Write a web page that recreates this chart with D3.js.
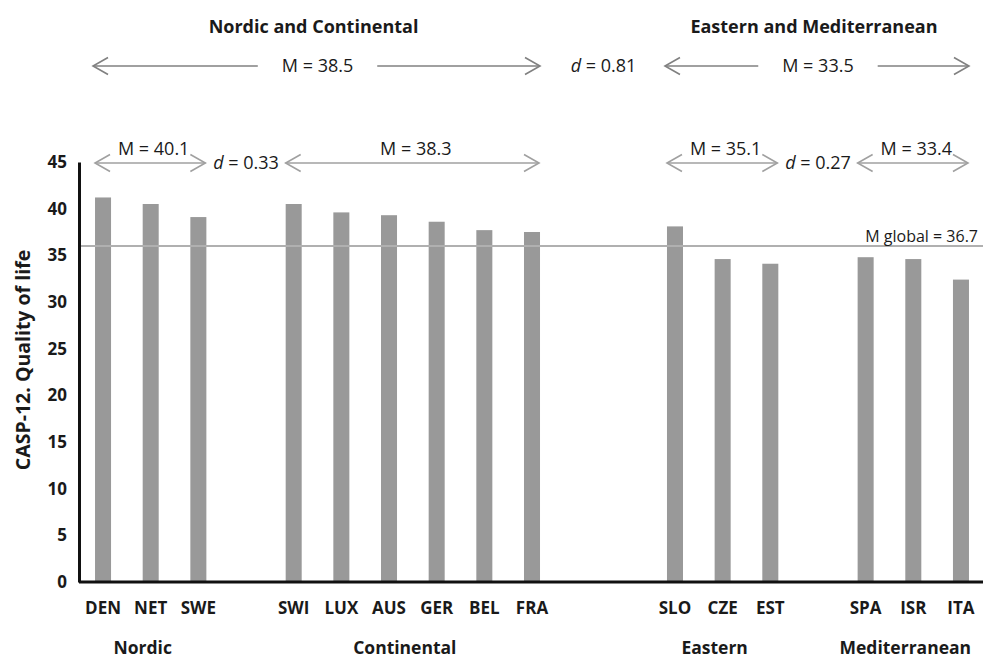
<!DOCTYPE html>
<html>
<head>
<meta charset="utf-8">
<script src="https://cdn.jsdelivr.net/npm/d3@7"></script>
<style>
  html, body { margin: 0; padding: 0; background: #fff; }
  svg { display: block; font-family: "Open Sans", sans-serif; }
</style>
</head>
<body>
<svg id="chart" width="983" height="660"></svg>
<script>
// ---- data ----
const categories = ["DEN","NET","SWE","SWI","LUX","AUS","GER","BEL","FRA","SLO","CZE","EST","SPA","ISR","ITA"];
const values     = [41.2, 40.5, 39.1, 40.5, 39.6, 39.3, 38.6, 37.7, 37.5, 38.1, 34.6, 34.1, 34.8, 34.6, 32.4];
const regionOf   = ["Nordic","Nordic","Nordic","Continental","Continental","Continental","Continental","Continental","Continental","Eastern","Eastern","Eastern","Mediterranean","Mediterranean","Mediterranean"];
const regions    = ["Nordic","Continental","Eastern","Mediterranean"];
const regionMeans = ["M = 40.1","M = 38.3","M = 35.1","M = 33.4"];
const gapsBefore  = [0, 1, 2, 1];           // empty slots before each region
const blocks      = ["Nordic and Continental","Eastern and Mediterranean"];
const blockRegions = [["Nordic","Continental"],["Eastern","Mediterranean"]];
const blockMeans  = ["M = 38.5","M = 33.5"];
const dWithin     = ["d = 0.33","d = 0.27"];
const dBetween    = "d = 0.81";
const globalMean  = 36.0;                   // line position as drawn
const globalLabel = "M global = 36.7";
const yTicks      = [0,5,10,15,20,25,30,35,40,45];
const yTitle      = "CASP-12. Quality of life";

// ---- slot domain (with empty spacer slots) ----
const slots = [];
let gapId = 0;
regions.forEach((r, i) => {
  for (let g = 0; g < gapsBefore[i]; g++) slots.push("_gap" + (gapId++));
  categories.forEach((c, j) => { if (regionOf[j] === r) slots.push(c); });
});

const svg = d3.select("#chart");
const x = d3.scaleBand().domain(slots).range([79.2, 984.8]).paddingInner(0.664).paddingOuter(0.332);
const y = d3.scaleLinear().domain([0, 45]).range([582, 162]);
const cx = k => x(k) + x.bandwidth() / 2;

// bars
svg.append("g").selectAll("rect").data(categories).join("rect")
  .attr("x", d => x(d))
  .attr("width", x.bandwidth())
  .attr("y", (d, i) => y(values[i]))
  .attr("height", (d, i) => y(0) - y(values[i]))
  .attr("fill", "#999999");

// global mean line
svg.append("line")
  .attr("x1", 79).attr("x2", 983)
  .attr("y1", y(globalMean)).attr("y2", y(globalMean))
  .attr("stroke", "#b0b0b0").attr("stroke-width", 2);
svg.append("text").attr("x", 978).attr("y", y(globalMean) - 4)
  .attr("text-anchor", "end").attr("font-size", 16).attr("fill", "#1a1a1a")
  .text(globalLabel);

// axes
const yAxis = svg.append("g").attr("transform", "translate(79,0)")
  .call(d3.axisLeft(y).tickValues(yTicks).tickSize(0).tickPadding(12));
yAxis.select(".domain").attr("stroke", "#111").attr("stroke-width", 3);
yAxis.selectAll("text").attr("font-size", 17).attr("font-weight", "bold")
  .attr("fill", "#1a1a1a").attr("font-family", "Open Sans, sans-serif");

const xAxis = svg.append("g").attr("transform", "translate(0,582)")
  .call(d3.axisBottom(x).tickSize(0).tickPadding(20).tickFormat(d => d.startsWith("_gap") ? "" : d));
xAxis.select(".domain").attr("d", "M79,0H983").attr("stroke", "#111").attr("stroke-width", 3);
xAxis.selectAll("text").attr("font-size", 17).attr("font-weight", "bold")
  .attr("fill", "#1a1a1a").attr("font-family", "Open Sans, sans-serif");

// y title
svg.append("text")
  .attr("transform", "translate(30,360) rotate(-90)")
  .attr("text-anchor", "middle").attr("font-size", 19.5).attr("font-weight", "bold")
  .attr("fill", "#1a1a1a").text(yTitle);

// helpers
function regionExtent(r) {
  const cs = categories.filter((c, j) => regionOf[j] === r);
  return [x(cs[0]), x(cs[cs.length - 1]) + x.bandwidth(), cs];
}
function head(g, xt, yy, dir, color) {
  g.append("path")
    .attr("d", `M${xt + dir * 15},${yy - 8.5}L${xt},${yy}L${xt + dir * 15},${yy + 8.5}`)
    .attr("fill", "none").attr("stroke", color).attr("stroke-width", 1.6);
}
function arrow(x1, x2, yy, color, gap) {
  const g = svg.append("g");
  if (gap) {
    g.append("line").attr("x1", x1).attr("x2", gap[0]).attr("y1", yy).attr("y2", yy)
      .attr("stroke", color).attr("stroke-width", 1.6);
    g.append("line").attr("x1", gap[1]).attr("x2", x2).attr("y1", yy).attr("y2", yy)
      .attr("stroke", color).attr("stroke-width", 1.6);
  } else {
    g.append("line").attr("x1", x1).attr("x2", x2).attr("y1", yy).attr("y2", yy)
      .attr("stroke", color).attr("stroke-width", 1.6);
  }
  head(g, x1, yy, 1, color);
  head(g, x2, yy, -1, color);
}
function dText(xx, yy, str) {
  const t = svg.append("text").attr("x", xx).attr("y", yy).attr("text-anchor", "middle")
    .attr("font-size", 18).attr("fill", "#1a1a1a");
  const parts = str.split(" = ");
  t.append("tspan").attr("font-style", "italic").text(parts[0]);
  t.append("tspan").text(" = " + parts[1]);
  return t;
}

// second-row arrows: region means
regions.forEach((r, i) => {
  const [a, b, cs] = regionExtent(r);
  arrow(a, b - 1, 163, "#a0a0a0");
  const mid = (cx(cs[0]) + cx(cs[cs.length - 1])) / 2;
  svg.append("text").attr("x", mid + 3).attr("y", 155).attr("text-anchor", "middle")
    .attr("font-size", 18).attr("fill", "#1a1a1a").text(regionMeans[i]);
  // bottom region labels
  svg.append("text").attr("x", mid - 8).attr("y", 654).attr("text-anchor", "middle")
    .attr("font-size", 17.5).attr("font-weight", "bold").attr("fill", "#1a1a1a").text(r);
});

// d within blocks (centered on the spacer slot between the two regions)
blockRegions.forEach((pair, i) => {
  const e1 = regionExtent(pair[0]), e2 = regionExtent(pair[1]);
  dText((e1[1] + e2[0]) / 2, 169, dWithin[i]);
});

// top row: block titles and arrows
blockRegions.forEach((pair, i) => {
  const a = regionExtent(pair[0])[0];
  const b = regionExtent(pair[1])[1];
  const mid = (cx(regionExtent(pair[0])[2][0]) + cx(regionExtent(pair[1])[2].slice(-1)[0])) / 2;
  svg.append("text").attr("x", mid - 4).attr("y", 33).attr("text-anchor", "middle")
    .attr("font-size", 18).attr("font-weight", "bold").attr("fill", "#1a1a1a").text(blocks[i]);
  const t = svg.append("text").attr("x", mid).attr("y", 72).attr("text-anchor", "middle")
    .attr("font-size", 18).attr("fill", "#1a1a1a").text(blockMeans[i]);
  const bb = t.node().getBBox();
  arrow(a - 2, b, 66, "#808080", [bb.x - 24, bb.x + bb.width + 24]);
});
{
  const e1 = regionExtent(blockRegions[0][1]), e2 = regionExtent(blockRegions[1][0]);
  dText((e1[1] + e2[0]) / 2, 72, dBetween);
}
</script>
</body>
</html>
